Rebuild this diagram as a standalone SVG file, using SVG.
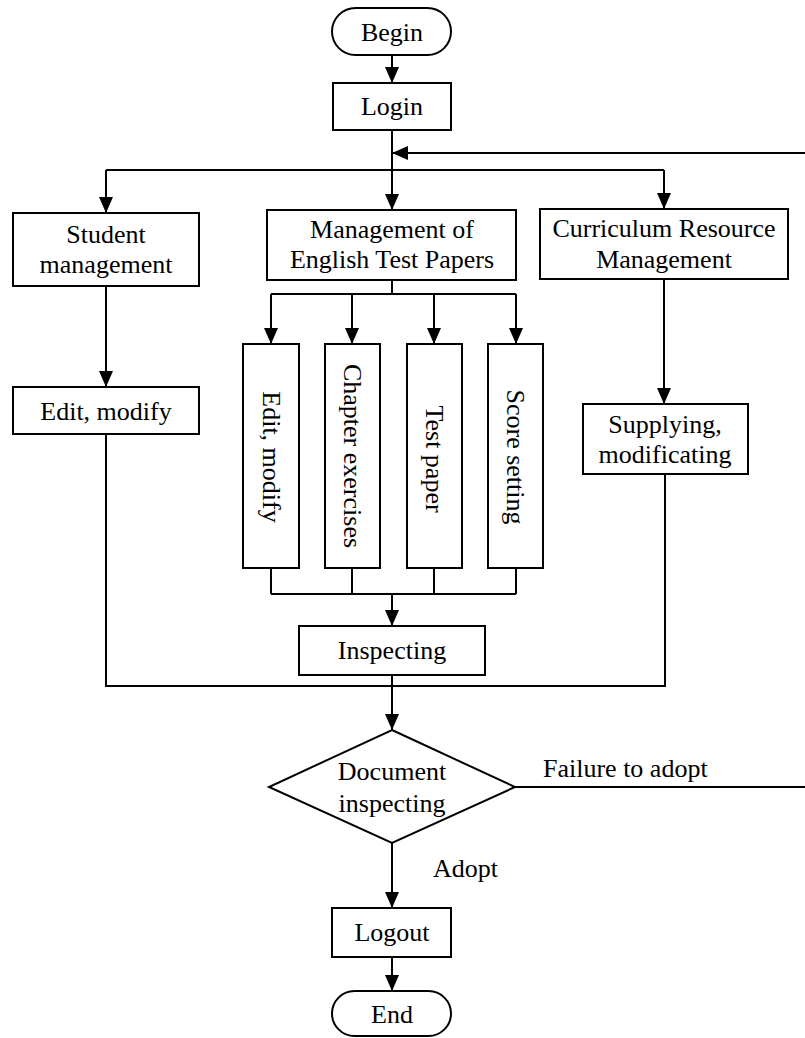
<svg xmlns="http://www.w3.org/2000/svg" width="805" height="1038" viewBox="0 0 805 1038">
<defs>
<style>
.n{fill:#fff;stroke:#000;stroke-width:2}
.c{fill:none;stroke:#000;stroke-width:2}
.t{font-family:"Liberation Serif","Times New Roman",serif;font-size:26px;fill:#000;text-anchor:middle}
.l{font-family:"Liberation Serif","Times New Roman",serif;font-size:26px;fill:#000}
.v{font-family:"Liberation Serif","Times New Roman",serif;font-size:26px;fill:#000;text-anchor:middle;dominant-baseline:central}
</style>
<marker id="a" markerUnits="userSpaceOnUse" markerWidth="16" markerHeight="16" viewBox="0 0 16 14" refX="16" refY="7" orient="auto">
<path d="M0,0 L16,7 L0,14 z" fill="#000"/>
</marker>
</defs>
<rect width="805" height="1038" fill="#fff"/>
<g id="connectors">
<path class="c" d="M392,55 V83" marker-end="url(#a)"/>
<path class="c" d="M392,130 V210" marker-end="url(#a)"/>
<path class="c" d="M805,153 H392" marker-end="url(#a)"/>
<path class="c" d="M106,170 H664"/>
<path class="c" d="M106,170 V213" marker-end="url(#a)"/>
<path class="c" d="M664,170 V209" marker-end="url(#a)"/>
<path class="c" d="M106,286 V387" marker-end="url(#a)"/>
<path class="c" d="M664,279 V404" marker-end="url(#a)"/>
<path class="c" d="M392,280 V294 M271,294 H516"/>
<path class="c" d="M271,294 V344" marker-end="url(#a)"/>
<path class="c" d="M352,294 V344" marker-end="url(#a)"/>
<path class="c" d="M434,294 V344" marker-end="url(#a)"/>
<path class="c" d="M516,294 V344" marker-end="url(#a)"/>
<path class="c" d="M271,568 V594 M352,568 V594 M434,568 V594 M516,568 V594 M271,594 H516"/>
<path class="c" d="M392,594 V626" marker-end="url(#a)"/>
<path class="c" d="M106,434 V686 H665 V474"/>
<path class="c" d="M392,675 V730" marker-end="url(#a)"/>
<path class="c" d="M515,787 H805"/>
<path class="c" d="M392,843 V908" marker-end="url(#a)"/>
<path class="c" d="M392,957 V991" marker-end="url(#a)"/>
</g>
<g id="begin"><rect class="n" x="332" y="8" width="119" height="47" rx="23.5"/><text class="t" x="392" y="41">Begin</text></g>
<g id="login"><rect class="n" x="333" y="83" width="118" height="47"/><text class="t" x="392" y="115">Login</text></g>
<g id="student"><rect class="n" x="13" y="213" width="186" height="73"/><text class="t" x="106" y="243">Student</text><text class="t" x="106" y="273">management</text></g>
<g id="mgmt"><rect class="n" x="267" y="210" width="249" height="70"/><text class="t" x="392" y="238">Management of</text><text class="t" x="392" y="268">English Test Papers</text></g>
<g id="curriculum"><rect class="n" x="540" y="209" width="248" height="70"/><text class="t" x="664" y="237">Curriculum Resource</text><text class="t" x="664" y="268">Management</text></g>
<g id="edit1"><rect class="n" x="13" y="387" width="186" height="47"/><text class="t" x="106" y="420">Edit, modify</text></g>
<g id="supply"><rect class="n" x="583" y="404" width="165" height="70"/><text class="t" x="665" y="433">Supplying,</text><text class="t" x="665" y="463">modificating</text></g>
<g id="col1"><rect class="n" x="243" y="344" width="56" height="224"/><text class="v" transform="translate(271,457) rotate(90)">Edit, modify</text></g>
<g id="col2"><rect class="n" x="325" y="344" width="55" height="224"/><text class="v" transform="translate(352.5,456) rotate(90)">Chapter exercises</text></g>
<g id="col3"><rect class="n" x="407" y="344" width="55" height="224"/><text class="v" transform="translate(434.5,459) rotate(90)">Test paper</text></g>
<g id="col4"><rect class="n" x="488" y="344" width="55" height="224"/><text class="v" transform="translate(515.5,457) rotate(90)">Score setting</text></g>
<g id="inspecting"><rect class="n" x="299" y="626" width="186" height="49"/><text class="t" x="392" y="659">Inspecting</text></g>
<g id="decision"><polygon class="n" points="392,730 515,787 392,843 269,787"/><text class="t" x="392" y="780">Document</text><text class="t" x="392" y="812">inspecting</text></g>
<g id="labels"><text class="l" x="543" y="777">Failure to adopt</text><text class="l" x="433" y="877">Adopt</text></g>
<g id="logout"><rect class="n" x="332" y="908" width="119" height="49"/><text class="t" x="392" y="941">Logout</text></g>
<g id="end"><rect class="n" x="332" y="991" width="119" height="45" rx="22.5"/><text class="t" x="392" y="1023">End</text></g>
</svg>
